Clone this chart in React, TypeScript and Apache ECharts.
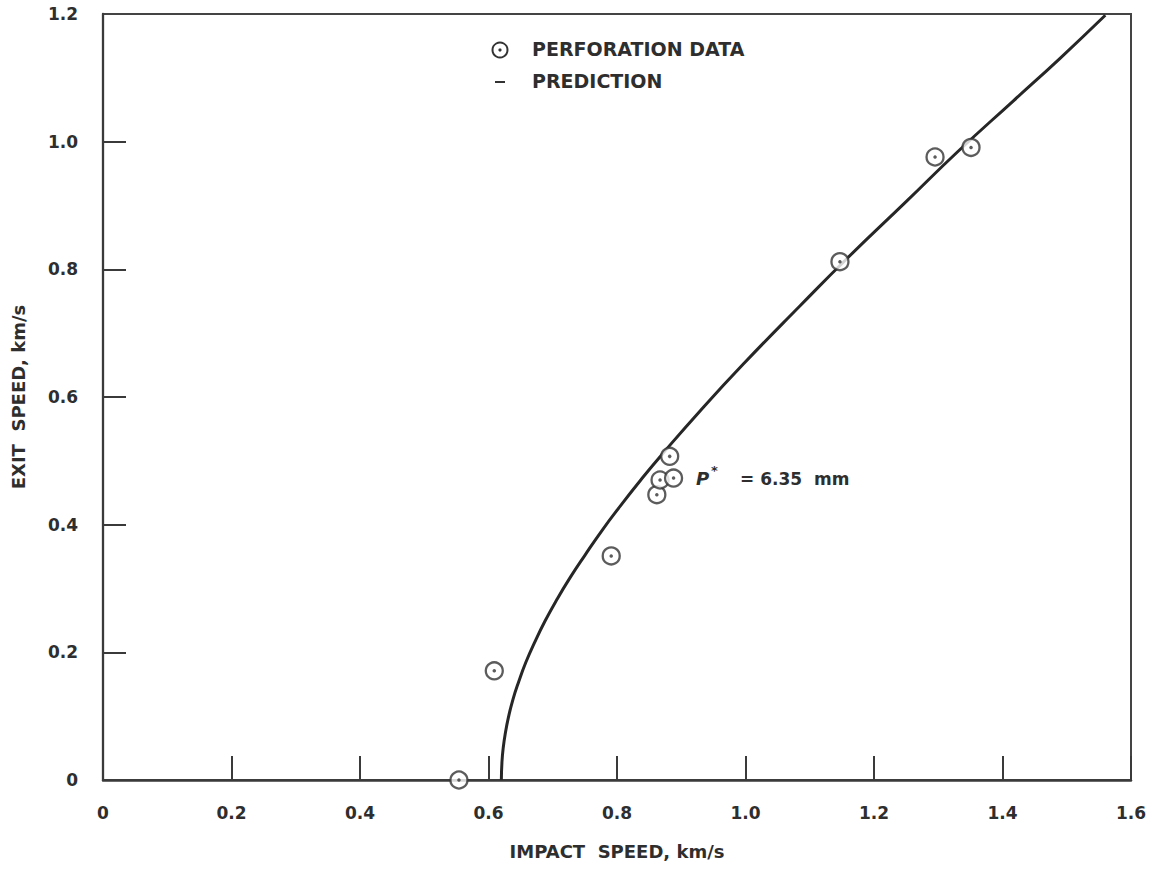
import React, { useEffect, useRef } from "react";
import * as echarts from "echarts";

// Perforation data (impact speed km/s, exit speed km/s)
const dataImpact = [0.554, 0.609, 0.791, 0.862, 0.867, 0.882, 0.888, 1.147, 1.295, 1.351];
const dataExit = [0.0, 0.171, 0.351, 0.447, 0.47, 0.507, 0.473, 0.812, 0.976, 0.991];

// Prediction curve
const curveImpact = [0.62, 0.621, 0.623, 0.626, 0.631, 0.638, 0.647, 0.658, 0.672, 0.688, 0.706, 0.727, 0.75, 0.776, 0.805, 0.837, 0.87, 0.93, 0.997, 1.085, 1.16, 1.25, 1.331, 1.417, 1.49, 1.56];
const curveExit = [0.0, 0.029, 0.051, 0.072, 0.098, 0.126, 0.154, 0.184, 0.216, 0.249, 0.282, 0.317, 0.352, 0.39, 0.429, 0.47, 0.51, 0.579, 0.652, 0.743, 0.819, 0.906, 0.985, 1.064, 1.131, 1.198];

const xTicks = [0, 0.2, 0.4, 0.6, 0.8, 1.0, 1.2, 1.4, 1.6];
const yTicks = [0, 0.2, 0.4, 0.6, 0.8, 1.0, 1.2];

const FONT = "DejaVu Sans";
const INK = "#2e2e2e";

const fmt = (v: number) => (v === 0 ? "0" : v.toFixed(1));

export default function App() {
  const ref = useRef<HTMLDivElement>(null);
  useEffect(() => {
    if (!ref.current) return;
    const chart = echarts.init(ref.current, undefined, { renderer: "svg" });
    const points = dataImpact.map((x, i) => [x, dataExit[i]]);
    const curve = curveImpact.map((x, i) => [x, curveExit[i]]);
    const gridLeft = 103;
    const gridRight = 30;
    const plotWidth = 1161 - gridLeft - gridRight;
    const xSpan = xTicks[xTicks.length - 1] - xTicks[0];
    const tickLenX = (23 / plotWidth) * xSpan; // 23 px inward tick, in x units
    const yTickMarks = yTicks
      .slice(1, -1)
      .map((v) => [{ coord: [xTicks[0], v] }, { coord: [xTicks[0] + tickLenX, v] }]);
    chart.setOption({
      animation: false,
      backgroundColor: "#ffffff",
      grid: {
        left: gridLeft,
        right: gridRight,
        top: 14,
        bottom: 90,
        show: true,
        borderColor: "#444",
        borderWidth: 2,
        backgroundColor: "transparent",
      },
      xAxis: {
        type: "value",
        min: xTicks[0],
        max: xTicks[xTicks.length - 1],
        interval: 0.2,
        name: "IMPACT  SPEED, km/s",
        nameLocation: "middle",
        nameGap: 62,
        nameTextStyle: { fontFamily: FONT, fontWeight: "bold", fontSize: 18, color: INK },
        axisLine: { show: true, onZero: false, lineStyle: { color: "#3a3a3a", width: 2.5 } },
        axisTick: { show: true, inside: true, length: 24, lineStyle: { color: "#3a3a3a", width: 2 } },
        axisLabel: {
          fontFamily: FONT,
          fontWeight: "bold",
          fontSize: 17,
          color: INK,
          margin: 24,
          formatter: (v: number) => fmt(v),
        },
        splitLine: { show: false },
      },
      yAxis: {
        type: "value",
        position: "left",
        min: yTicks[0],
        max: yTicks[yTicks.length - 1],
        interval: 0.2,
        name: "EXIT  SPEED, km/s",
        nameLocation: "middle",
        nameGap: 76,
        nameTextStyle: { fontFamily: FONT, fontWeight: "bold", fontSize: 18, color: INK },
        axisLine: { show: true, onZero: false, lineStyle: { color: "#3a3a3a", width: 2.3 } },
        axisTick: { show: false },
        axisLabel: {
          fontFamily: FONT,
          fontWeight: "bold",
          fontSize: 17,
          color: INK,
          margin: 25,
          align: "right",
          formatter: (v: number) => fmt(v),
        },
        splitLine: { show: false },
      },
      series: [
        {
          name: "PREDICTION",
          type: "line",
          data: curve,
          smooth: true,
          showSymbol: false,
          symbol: "none",
          lineStyle: { color: "#262626", width: 3 },
          z: 3,
          markLine: {
            silent: true,
            symbol: ["none", "none"],
            label: { show: false },
            lineStyle: { color: "#3a3a3a", width: 2, type: "solid" },
            emphasis: { disabled: true },
            data: yTickMarks,
          },
        },
        {
          name: "PERFORATION DATA",
          type: "scatter",
          data: points,
          symbol: "circle",
          symbolSize: 17,
          itemStyle: { color: "#ffffff", borderColor: "#333", borderWidth: 2.3 },
          z: 4,
        },
        {
          name: "PERFORATION DATA centre",
          type: "scatter",
          data: points,
          symbol: "circle",
          symbolSize: 3.5,
          itemStyle: { color: "#333" },
          z: 5,
        },
      ],
      graphic: [
        {
          type: "circle",
          shape: { cx: 500, cy: 50, r: 7.5 },
          style: { fill: "#fff", stroke: "#333", lineWidth: 2 },
        },
        {
          type: "circle",
          shape: { cx: 500, cy: 50, r: 1.6 },
          style: { fill: "#333" },
        },
        {
          type: "text",
          left: 532,
          top: 39,
          style: { text: "PERFORATION DATA", fontFamily: FONT, fontWeight: "bold", fontSize: 19, fill: INK },
        },
        {
          type: "line",
          shape: { x1: 495, y1: 82, x2: 505, y2: 82 },
          style: { stroke: "#333", lineWidth: 2 },
        },
        {
          type: "text",
          left: 532,
          top: 71,
          style: { text: "PREDICTION", fontFamily: FONT, fontWeight: "bold", fontSize: 19, fill: INK },
        },
        {
          type: "text",
          left: 696,
          top: 469,
          style: { text: "P", fontFamily: FONT, fontStyle: "italic", fontWeight: "bold", fontSize: 18, fill: INK },
        },
        {
          type: "text",
          left: 711,
          top: 464,
          style: { text: "*", fontFamily: FONT, fontWeight: "bold", fontSize: 13, fill: INK },
        },
        {
          type: "text",
          left: 740,
          top: 470,
          style: { text: "= 6.35  mm", fontFamily: FONT, fontWeight: "bold", fontSize: 17, fill: INK },
        },
      ],
    });
    return () => chart.dispose();
  }, []);
  return (
    <div
      ref={ref}
      style={{ position: "absolute", left: 0, top: 0, width: 1161, height: 870, background: "#fff" }}
    />
  );
}
